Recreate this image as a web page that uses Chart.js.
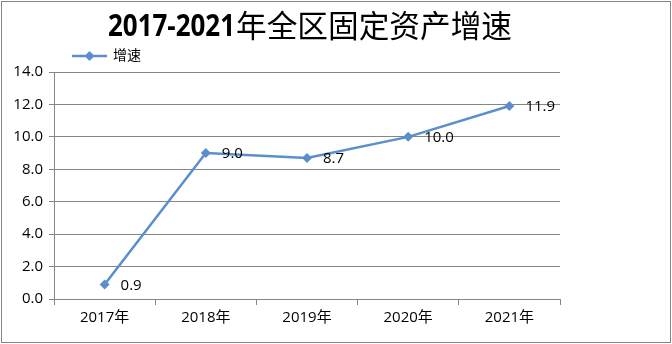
<!DOCTYPE html>
<html>
<head>
<meta charset="utf-8">
<script src="https://cdn.jsdelivr.net/npm/chart.js@4"></script>
<style>
  html, body { margin: 0; padding: 0; background: #fff; }
  #wrap { width: 672px; height: 344px; position: relative; }
</style>
</head>
<body>
<div id="wrap"><canvas id="grafico" width="672" height="344"></canvas></div>
<script>
const anos = ["2017年", "2018年", "2019年", "2020年", "2021年"];
const crescimento = [0.9, 9.0, 8.7, 10.0, 11.9];
const tituloNum = "2017-2021";
const tituloTexto = "年全区固定资产增速";
const serieNome = "增速";

const fonte = '"Open Sans", "Noto Sans CJK SC", sans-serif';
const fonteCJK = '"Noto Sans CJK SC", sans-serif';
const azul = "#5a8fcc";
const cinza = "#868686";

// escreve texto comprimido ate caber na largura pedida
function textoAjustado(ctx, txt, x, y, largura) {
  const w = ctx.measureText(txt).width;
  const k = Math.min(1, largura / w);
  ctx.save();
  ctx.translate(x, y);
  ctx.scale(k, 1);
  ctx.fillText(txt, 0, 0);
  ctx.restore();
}

const molduraPlugin = {
  id: "moldura",
  afterDraw(chart) {
    const ctx = chart.ctx;
    ctx.save();
    ctx.strokeStyle = cinza;
    ctx.lineWidth = 1;
    ctx.strokeRect(1.5, 1.5, chart.width - 3, chart.height - 3);

    // titulo: numeros em negrito, caracteres normais
    ctx.fillStyle = "#000";
    ctx.textAlign = "left";
    ctx.textBaseline = "middle";
    ctx.font = "bold 30px " + fonte;
    textoAjustado(ctx, tituloNum, 108, 27, 127);
    ctx.font = "31px " + fonteCJK;
    textoAjustado(ctx, tituloTexto, 236, 25, 276);

    // legenda
    ctx.strokeStyle = azul;
    ctx.lineWidth = 2.5;
    ctx.beginPath();
    ctx.moveTo(72, 56);
    ctx.lineTo(107, 56);
    ctx.stroke();
    ctx.fillStyle = azul;
    ctx.beginPath();
    ctx.moveTo(89.5, 51);
    ctx.lineTo(94.5, 56);
    ctx.lineTo(89.5, 61);
    ctx.lineTo(84.5, 56);
    ctx.closePath();
    ctx.fill();
    ctx.fillStyle = "#000";
    ctx.font = "14px " + fonte;
    ctx.fillText(serieNome, 113, 56);

    // rotulos dos pontos
    const meta = chart.getDatasetMeta(0);
    ctx.font = "15px " + fonte;
    meta.data.forEach((pt, i) => {
      ctx.fillText(crescimento[i].toFixed(1), pt.x + 16, pt.y + 1);
    });
    ctx.restore();
  }
};

new Chart(document.getElementById("grafico"), {
  type: "line",
  data: {
    labels: anos,
    datasets: [{
      label: serieNome,
      data: crescimento,
      borderColor: azul,
      backgroundColor: azul,
      borderWidth: 2.5,
      pointStyle: "rectRot",
      pointRadius: 5,
      pointBorderWidth: 0,
      tension: 0
    }]
  },
  options: {
    responsive: false,
    animation: false,
    devicePixelRatio: 1,
    layout: { padding: { left: 0, top: 72, right: 112, bottom: 0 } },
    plugins: {
      legend: { display: false },
      title: { display: false },
      tooltip: { enabled: false }
    },
    scales: {
      x: {
        offset: true,
        grid: { offset: true, drawOnChartArea: false, drawTicks: true, tickLength: 6, color: cinza },
        border: { color: cinza },
        ticks: { color: "#000", font: { family: fonte, size: 15 }, padding: 4 },
        afterFit(s) { s.height = 45; }
      },
      y: {
        min: 0,
        max: 14,
        ticks: {
          stepSize: 2,
          color: "#000",
          font: { family: fonte, size: 15 },
          padding: 6,
          callback: v => v.toFixed(1)
        },
        grid: { color: cinza, tickLength: 5 },
        border: { color: cinza },
        afterFit(s) { s.width = 54; }
      }
    }
  },
  plugins: [molduraPlugin]
});
</script>
</body>
</html>
